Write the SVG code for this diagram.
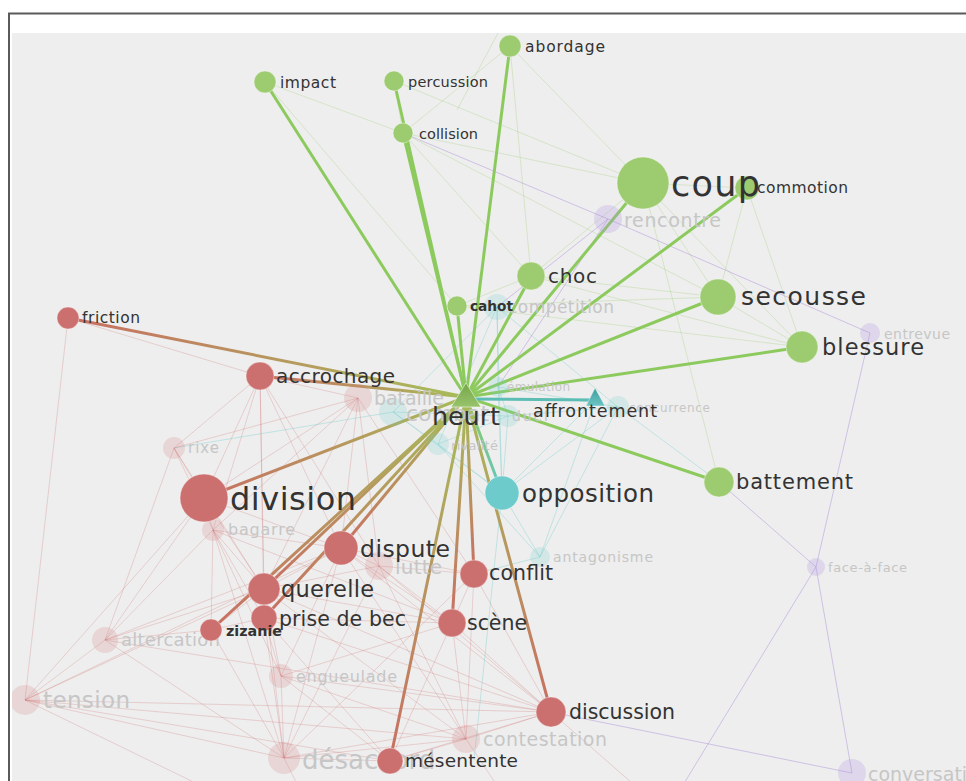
<svg xmlns="http://www.w3.org/2000/svg" width="966" height="781" viewBox="0 0 966 781">
<defs>
<style>
.lb{font-family:"DejaVu Sans","Liberation Sans",sans-serif;fill:#333}
.fl{font-family:"DejaVu Sans","Liberation Sans",sans-serif;fill:#c6c6c6}
.fg{stroke:#9dcc70;stroke-opacity:.3;stroke-width:1}
.fr{stroke:#d07878;stroke-opacity:.28;stroke-width:1}
.ft{stroke:#6ecbcb;stroke-opacity:.35;stroke-width:1}
.fp{stroke:#a98ad8;stroke-opacity:.45;stroke-width:1}
.sg{stroke:#8dca5e;stroke-width:3}
.gn{fill:#9dcb70;stroke:#fff;stroke-opacity:.4}
.rn{fill:#cc6f6f;stroke:#fff;stroke-opacity:.4}
.tn{fill:#6ecbcb;stroke:#fff;stroke-opacity:.4}
.rf{fill:#d07878;fill-opacity:.2}
.tf{fill:#6ecbcb;fill-opacity:.2}
.pf{fill:#b090e0;fill-opacity:.25}
</style>
<clipPath id="clip"><rect x="12" y="33" width="954" height="748"/></clipPath>
<linearGradient id="gF" gradientUnits="userSpaceOnUse" x1="466" y1="397" x2="68" y2="318"><stop offset="0" stop-color="#a6bd5a"/><stop offset="1" stop-color="#c96e62"/></linearGradient>
<linearGradient id="gA" gradientUnits="userSpaceOnUse" x1="466" y1="397" x2="260" y2="376"><stop offset="0" stop-color="#a6bd5a"/><stop offset="1" stop-color="#c96e62"/></linearGradient>
<linearGradient id="gD" gradientUnits="userSpaceOnUse" x1="466" y1="397" x2="204" y2="498"><stop offset="0" stop-color="#a6bd5a"/><stop offset="1" stop-color="#c96e62"/></linearGradient>
<linearGradient id="gDi" gradientUnits="userSpaceOnUse" x1="466" y1="397" x2="341" y2="548"><stop offset="0" stop-color="#a6bd5a"/><stop offset="1" stop-color="#c96e62"/></linearGradient>
<linearGradient id="gQ" gradientUnits="userSpaceOnUse" x1="466" y1="397" x2="264" y2="589"><stop offset="0" stop-color="#a6bd5a"/><stop offset="1" stop-color="#c96e62"/></linearGradient>
<linearGradient id="gP" gradientUnits="userSpaceOnUse" x1="466" y1="397" x2="264" y2="618"><stop offset="0" stop-color="#a6bd5a"/><stop offset="1" stop-color="#c96e62"/></linearGradient>
<linearGradient id="gZ" gradientUnits="userSpaceOnUse" x1="466" y1="397" x2="211" y2="630"><stop offset="0" stop-color="#a6bd5a"/><stop offset="1" stop-color="#c96e62"/></linearGradient>
<linearGradient id="gC" gradientUnits="userSpaceOnUse" x1="466" y1="397" x2="474" y2="574"><stop offset="0" stop-color="#a6bd5a"/><stop offset="1" stop-color="#c96e62"/></linearGradient>
<linearGradient id="gS" gradientUnits="userSpaceOnUse" x1="466" y1="397" x2="452" y2="623"><stop offset="0" stop-color="#a6bd5a"/><stop offset="1" stop-color="#c96e62"/></linearGradient>
<linearGradient id="gDc" gradientUnits="userSpaceOnUse" x1="466" y1="397" x2="551" y2="712"><stop offset="0" stop-color="#a6bd5a"/><stop offset="1" stop-color="#c96e62"/></linearGradient>
<linearGradient id="gM" gradientUnits="userSpaceOnUse" x1="466" y1="397" x2="390" y2="761"><stop offset="0" stop-color="#a6bd5a"/><stop offset="1" stop-color="#c96e62"/></linearGradient>
<linearGradient id="gO" gradientUnits="userSpaceOnUse" x1="466" y1="397" x2="502" y2="493"><stop offset="0" stop-color="#8dca5e"/><stop offset="1" stop-color="#62c6c0"/></linearGradient>
<linearGradient id="gH" x1="0" y1="0" x2="0" y2="1"><stop offset="0" stop-color="#76a548"/><stop offset="1" stop-color="#98c46c"/></linearGradient>
<linearGradient id="gAf" x1="0" y1="0" x2="0" y2="1"><stop offset="0" stop-color="#3f9e9e"/><stop offset="1" stop-color="#6cc4c4"/></linearGradient>
</defs>
<rect x="0" y="0" width="966" height="781" fill="#ffffff"/>
<rect x="12" y="33" width="954" height="748" fill="#eeeeee"/>
<path d="M9,781 V13.5 H966" fill="none" stroke="#5a5a5a" stroke-width="2"/>
<g clip-path="url(#clip)">
<g id="connectors">
<line class="fg" x1="265" y1="82" x2="403" y2="133"/>
<line class="fg" x1="265" y1="82" x2="457" y2="306"/>
<line class="fg" x1="394" y1="81" x2="403" y2="133"/>
<line class="fg" x1="394" y1="81" x2="643" y2="183"/>
<line class="fg" x1="510" y1="46" x2="403" y2="133"/>
<line class="fg" x1="510" y1="46" x2="531" y2="276"/>
<line class="fg" x1="510" y1="46" x2="643" y2="183"/>
<line class="fg" x1="498" y1="33" x2="457" y2="110"/>
<line class="fg" x1="403" y1="133" x2="531" y2="276"/>
<line class="fg" x1="403" y1="133" x2="643" y2="183"/>
<line class="fg" x1="403" y1="133" x2="718" y2="297"/>
<line class="fg" x1="531" y1="276" x2="643" y2="183"/>
<line class="fg" x1="531" y1="276" x2="718" y2="297"/>
<line class="fg" x1="531" y1="276" x2="802" y2="347"/>
<line class="fg" x1="457" y1="306" x2="718" y2="297"/>
<line class="fg" x1="457" y1="306" x2="531" y2="276"/>
<line class="fg" x1="457" y1="306" x2="802" y2="347"/>
<line class="fg" x1="643" y1="183" x2="718" y2="297"/>
<line class="fg" x1="643" y1="183" x2="802" y2="347"/>
<line class="fg" x1="643" y1="183" x2="719" y2="482"/>
<line class="fg" x1="747" y1="188" x2="718" y2="297"/>
<line class="fg" x1="747" y1="188" x2="802" y2="347"/>
<line class="fg" x1="718" y1="297" x2="802" y2="347"/>
<line class="fg" x1="643" y1="183" x2="747" y2="188"/>
<line class="fp" x1="403" y1="133" x2="608" y2="219"/>
<line class="fp" x1="608" y1="219" x2="870" y2="333"/>
<line class="fp" x1="608" y1="219" x2="497" y2="307"/>
<line class="fp" x1="608" y1="219" x2="498" y2="387"/>
<line class="fp" x1="870" y1="333" x2="816" y2="567"/>
<line class="fp" x1="719" y1="482" x2="816" y2="567"/>
<line class="fp" x1="816" y1="567" x2="852" y2="773"/>
<line class="fp" x1="816" y1="567" x2="680" y2="790"/>
<line class="fp" x1="551" y1="712" x2="852" y2="773"/>
<line class="ft" x1="497" y1="307" x2="498" y2="387"/>
<line class="ft" x1="497" y1="307" x2="438" y2="444"/>
<line class="ft" x1="497" y1="307" x2="618" y2="407"/>
<line class="ft" x1="497" y1="307" x2="393" y2="412"/>
<line class="ft" x1="497" y1="307" x2="502" y2="493"/>
<line class="ft" x1="498" y1="387" x2="618" y2="407"/>
<line class="ft" x1="498" y1="387" x2="502" y2="493"/>
<line class="ft" x1="498" y1="387" x2="508" y2="416"/>
<line class="ft" x1="393" y1="412" x2="438" y2="444"/>
<line class="ft" x1="393" y1="412" x2="508" y2="416"/>
<line class="ft" x1="393" y1="412" x2="174" y2="448"/>
<line class="ft" x1="393" y1="412" x2="502" y2="493"/>
<line class="ft" x1="438" y1="444" x2="502" y2="493"/>
<line class="ft" x1="438" y1="444" x2="540" y2="557"/>
<line class="ft" x1="438" y1="444" x2="508" y2="416"/>
<line class="ft" x1="508" y1="416" x2="502" y2="493"/>
<line class="ft" x1="508" y1="416" x2="618" y2="407"/>
<line class="ft" x1="618" y1="407" x2="502" y2="493"/>
<line class="ft" x1="618" y1="407" x2="540" y2="557"/>
<line class="ft" x1="618" y1="407" x2="719" y2="482"/>
<line class="ft" x1="502" y1="493" x2="540" y2="557"/>
<line class="ft" x1="596" y1="399" x2="540" y2="557"/>
<line class="ft" x1="596" y1="399" x2="502" y2="493"/>
<line class="ft" x1="540" y1="557" x2="474" y2="574"/>
<line class="ft" x1="502" y1="493" x2="474" y2="760"/>
<line class="fr" x1="68" y1="318" x2="25" y2="700"/>
<line class="fr" x1="68" y1="318" x2="260" y2="376"/>
<line class="fr" x1="260" y1="376" x2="174" y2="448"/>
<line class="fr" x1="260" y1="376" x2="358" y2="398"/>
<line class="fr" x1="260" y1="376" x2="204" y2="498"/>
<line class="fr" x1="260" y1="376" x2="213" y2="530"/>
<line class="fr" x1="260" y1="376" x2="264" y2="589"/>
<line class="fr" x1="260" y1="376" x2="341" y2="548"/>
<line class="fr" x1="260" y1="376" x2="379" y2="566"/>
<line class="fr" x1="260" y1="376" x2="264" y2="618"/>
<line class="fr" x1="174" y1="448" x2="204" y2="498"/>
<line class="fr" x1="174" y1="448" x2="213" y2="530"/>
<line class="fr" x1="174" y1="448" x2="105" y2="640"/>
<line class="fr" x1="174" y1="448" x2="264" y2="589"/>
<line class="fr" x1="174" y1="448" x2="358" y2="398"/>
<line class="fr" x1="204" y1="498" x2="213" y2="530"/>
<line class="fr" x1="204" y1="498" x2="341" y2="548"/>
<line class="fr" x1="204" y1="498" x2="264" y2="589"/>
<line class="fr" x1="204" y1="498" x2="105" y2="640"/>
<line class="fr" x1="204" y1="498" x2="25" y2="700"/>
<line class="fr" x1="204" y1="498" x2="358" y2="398"/>
<line class="fr" x1="213" y1="530" x2="264" y2="589"/>
<line class="fr" x1="213" y1="530" x2="264" y2="618"/>
<line class="fr" x1="213" y1="530" x2="211" y2="630"/>
<line class="fr" x1="213" y1="530" x2="281" y2="676"/>
<line class="fr" x1="213" y1="530" x2="284" y2="758"/>
<line class="fr" x1="213" y1="530" x2="105" y2="640"/>
<line class="fr" x1="213" y1="530" x2="341" y2="548"/>
<line class="fr" x1="213" y1="530" x2="452" y2="623"/>
<line class="fr" x1="341" y1="548" x2="379" y2="566"/>
<line class="fr" x1="341" y1="548" x2="264" y2="589"/>
<line class="fr" x1="341" y1="548" x2="474" y2="574"/>
<line class="fr" x1="341" y1="548" x2="452" y2="623"/>
<line class="fr" x1="341" y1="548" x2="281" y2="676"/>
<line class="fr" x1="341" y1="548" x2="284" y2="758"/>
<line class="fr" x1="341" y1="548" x2="466" y2="739"/>
<line class="fr" x1="341" y1="548" x2="358" y2="398"/>
<line class="fr" x1="341" y1="548" x2="551" y2="712"/>
<line class="fr" x1="264" y1="589" x2="264" y2="618"/>
<line class="fr" x1="264" y1="589" x2="211" y2="630"/>
<line class="fr" x1="264" y1="589" x2="105" y2="640"/>
<line class="fr" x1="264" y1="589" x2="25" y2="700"/>
<line class="fr" x1="264" y1="589" x2="281" y2="676"/>
<line class="fr" x1="264" y1="589" x2="284" y2="758"/>
<line class="fr" x1="264" y1="589" x2="466" y2="739"/>
<line class="fr" x1="264" y1="589" x2="551" y2="712"/>
<line class="fr" x1="264" y1="589" x2="379" y2="566"/>
<line class="fr" x1="264" y1="589" x2="452" y2="623"/>
<line class="fr" x1="264" y1="618" x2="211" y2="630"/>
<line class="fr" x1="264" y1="618" x2="281" y2="676"/>
<line class="fr" x1="264" y1="618" x2="284" y2="758"/>
<line class="fr" x1="264" y1="618" x2="452" y2="623"/>
<line class="fr" x1="264" y1="618" x2="390" y2="761"/>
<line class="fr" x1="264" y1="618" x2="551" y2="712"/>
<line class="fr" x1="211" y1="630" x2="105" y2="640"/>
<line class="fr" x1="211" y1="630" x2="284" y2="758"/>
<line class="fr" x1="105" y1="640" x2="25" y2="700"/>
<line class="fr" x1="105" y1="640" x2="284" y2="758"/>
<line class="fr" x1="105" y1="640" x2="551" y2="712"/>
<line class="fr" x1="105" y1="640" x2="341" y2="548"/>
<line class="fr" x1="25" y1="700" x2="284" y2="758"/>
<line class="fr" x1="25" y1="700" x2="551" y2="712"/>
<line class="fr" x1="25" y1="700" x2="466" y2="739"/>
<line class="fr" x1="25" y1="700" x2="390" y2="761"/>
<line class="fr" x1="25" y1="700" x2="341" y2="548"/>
<line class="fr" x1="25" y1="700" x2="210" y2="790"/>
<line class="fr" x1="281" y1="676" x2="284" y2="758"/>
<line class="fr" x1="281" y1="676" x2="390" y2="761"/>
<line class="fr" x1="281" y1="676" x2="466" y2="739"/>
<line class="fr" x1="281" y1="676" x2="452" y2="623"/>
<line class="fr" x1="281" y1="676" x2="551" y2="712"/>
<line class="fr" x1="379" y1="566" x2="474" y2="574"/>
<line class="fr" x1="379" y1="566" x2="452" y2="623"/>
<line class="fr" x1="379" y1="566" x2="466" y2="739"/>
<line class="fr" x1="379" y1="566" x2="284" y2="758"/>
<line class="fr" x1="379" y1="566" x2="551" y2="712"/>
<line class="fr" x1="474" y1="574" x2="452" y2="623"/>
<line class="fr" x1="474" y1="574" x2="551" y2="712"/>
<line class="fr" x1="474" y1="574" x2="466" y2="739"/>
<line class="fr" x1="474" y1="574" x2="284" y2="758"/>
<line class="fr" x1="452" y1="623" x2="466" y2="739"/>
<line class="fr" x1="452" y1="623" x2="551" y2="712"/>
<line class="fr" x1="452" y1="623" x2="390" y2="761"/>
<line class="fr" x1="551" y1="712" x2="466" y2="739"/>
<line class="fr" x1="551" y1="712" x2="390" y2="761"/>
<line class="fr" x1="551" y1="712" x2="284" y2="758"/>
<line class="fr" x1="551" y1="712" x2="640" y2="790"/>
<line class="fr" x1="466" y1="739" x2="390" y2="761"/>
<line class="fr" x1="466" y1="739" x2="284" y2="758"/>
<line class="fr" x1="390" y1="761" x2="284" y2="758"/>
<line class="fr" x1="358" y1="398" x2="379" y2="566"/>
<line class="fr" x1="358" y1="398" x2="264" y2="589"/>
<line class="fr" x1="358" y1="398" x2="474" y2="574"/>
<line class="fr" x1="358" y1="398" x2="213" y2="530"/>
<line class="fr" x1="284" y1="758" x2="300" y2="790"/>
<line class="fr" x1="466" y1="739" x2="500" y2="790"/>
<line class="sg" x1="466" y1="397" x2="265" y2="82"/>
<line class="sg" x1="466" y1="397" x2="394" y2="81"/>
<line class="sg" x1="466" y1="397" x2="403" y2="133"/>
<line class="sg" x1="466" y1="397" x2="510" y2="46"/>
<line class="sg" x1="466" y1="397" x2="643" y2="183"/>
<line class="sg" x1="466" y1="397" x2="747" y2="188"/>
<line class="sg" x1="466" y1="397" x2="531" y2="276"/>
<line class="sg" x1="466" y1="397" x2="457" y2="306"/>
<line class="sg" x1="466" y1="397" x2="718" y2="297"/>
<line class="sg" x1="466" y1="397" x2="802" y2="347"/>
<line class="sg" x1="466" y1="397" x2="719" y2="482"/>
<line x1="466" y1="399" x2="596" y2="400" stroke="#5cbdb5" stroke-width="3"/>
<line x1="466" y1="397" x2="502" y2="493" stroke="url(#gO)" stroke-width="3"/>
<line x1="466" y1="397" x2="68" y2="318" stroke="url(#gF)" stroke-width="3"/>
<line x1="466" y1="397" x2="260" y2="376" stroke="url(#gA)" stroke-width="3"/>
<line x1="466" y1="397" x2="204" y2="498" stroke="url(#gD)" stroke-width="3"/>
<line x1="466" y1="397" x2="341" y2="548" stroke="url(#gDi)" stroke-width="3"/>
<line x1="466" y1="397" x2="264" y2="589" stroke="url(#gQ)" stroke-width="3"/>
<line x1="466" y1="397" x2="264" y2="618" stroke="url(#gP)" stroke-width="3"/>
<line x1="466" y1="397" x2="211" y2="630" stroke="url(#gZ)" stroke-width="3"/>
<line x1="466" y1="397" x2="474" y2="574" stroke="url(#gC)" stroke-width="3"/>
<line x1="466" y1="397" x2="452" y2="623" stroke="url(#gS)" stroke-width="3"/>
<line x1="466" y1="397" x2="551" y2="712" stroke="url(#gDc)" stroke-width="3"/>
<line x1="466" y1="397" x2="390" y2="761" stroke="url(#gM)" stroke-width="3"/>
</g>
<g id="n-rencontre"><circle class="pf" cx="608" cy="219" r="14"/><text class="fl" x="624" y="227" font-size="19" textLength="97" lengthAdjust="spacing">rencontre</text></g>
<g id="n-entrevue"><circle class="pf" cx="870" cy="333" r="10"/><text class="fl" x="884" y="339" font-size="14" textLength="66" lengthAdjust="spacing">entrevue</text></g>
<g id="n-face-a-face"><circle class="pf" cx="816" cy="567" r="9"/><text class="fl" x="828" y="572" font-size="13" fill="#bdbdbd" textLength="79" lengthAdjust="spacing">face-à-face</text></g>
<g id="n-conversation"><circle class="pf" cx="852" cy="773" r="14"/><text class="fl" x="868" y="781" font-size="19">conversation</text></g>
<g id="n-competition"><circle class="tf" cx="497" cy="307" r="13"/><text class="fl" x="508" y="313" font-size="17" textLength="106" lengthAdjust="spacing">compétition</text></g>
<g id="n-emulation"><circle class="tf" cx="498" cy="387" r="10"/><text class="fl" x="507" y="391" font-size="12" textLength="63" lengthAdjust="spacing">émulation</text></g>
<g id="n-concurrence"><circle class="tf" cx="618" cy="407" r="11"/><text class="fl" x="629" y="412" font-size="12" textLength="81" lengthAdjust="spacing">concurrence</text></g>
<g id="n-duel"><circle class="tf" cx="508" cy="416" r="11"/><text class="fl" x="512" y="421" font-size="14" textLength="36" lengthAdjust="spacing">duel</text></g>
<g id="n-combat"><circle class="tf" cx="393" cy="412" r="14"/><text class="fl" x="406" y="421" font-size="22">combat</text></g>
<g id="n-rivalite"><circle class="tf" cx="438" cy="444" r="11"/><text class="fl" x="451" y="450" font-size="13" textLength="47" lengthAdjust="spacing">rivalité</text></g>
<g id="n-antagonisme"><circle class="tf" cx="540" cy="557" r="10"/><text class="fl" x="553" y="562" font-size="14" textLength="100" lengthAdjust="spacing">antagonisme</text></g>
<g id="n-bataille"><circle class="rf" cx="358" cy="398" r="14"/><text class="fl" x="374" y="405" font-size="19" textLength="70" lengthAdjust="spacing">bataille</text></g>
<g id="n-rixe"><circle class="rf" cx="174" cy="448" r="11"/><text class="fl" x="188" y="453" font-size="15" textLength="31" lengthAdjust="spacing">rixe</text></g>
<g id="n-bagarre"><circle class="rf" cx="213" cy="530" r="11"/><text class="fl" x="228" y="535" font-size="16" textLength="67" lengthAdjust="spacing">bagarre</text></g>
<g id="n-lutte"><circle class="rf" cx="379" cy="566" r="14"/><text class="fl" x="395" y="574" font-size="20" textLength="47" lengthAdjust="spacing">lutte</text></g>
<g id="n-altercation"><circle class="rf" cx="105" cy="640" r="13"/><text class="fl" x="121" y="646" font-size="18" textLength="99" lengthAdjust="spacing">altercation</text></g>
<g id="n-tension"><circle class="rf" cx="25" cy="700" r="15"/><text class="fl" x="43" y="708" font-size="23" textLength="87" lengthAdjust="spacing">tension</text></g>
<g id="n-engueulade"><circle class="rf" cx="281" cy="676" r="12"/><text class="fl" x="296" y="682" font-size="16" textLength="101" lengthAdjust="spacing">engueulade</text></g>
<g id="n-contestation"><circle class="rf" cx="466" cy="739" r="14"/><text class="fl" x="483" y="746" font-size="19" textLength="124" lengthAdjust="spacing">contestation</text></g>
<g id="n-desaccord"><circle class="rf" cx="284" cy="758" r="16"/><text class="fl" x="302" y="769" font-size="26">désaccord</text></g>
<g id="n-abordage"><circle class="gn" cx="510" cy="46" r="11"/><text class="lb" x="525" y="52" font-size="15.5" textLength="80" lengthAdjust="spacing">abordage</text></g>
<g id="n-impact"><circle class="gn" cx="265" cy="82" r="11"/><text class="lb" x="280" y="88" font-size="15.5" textLength="56" lengthAdjust="spacing">impact</text></g>
<g id="n-percussion"><circle class="gn" cx="394" cy="81" r="10"/><text class="lb" x="408" y="87" font-size="14.5" textLength="80" lengthAdjust="spacing">percussion</text></g>
<g id="n-collision"><circle class="gn" cx="403" cy="133" r="10"/><text class="lb" x="419" y="139" font-size="14.5" textLength="59" lengthAdjust="spacing">collision</text></g>
<g id="n-commotion"><circle class="gn" cx="747" cy="188" r="12"/><text class="lb" x="757" y="193" font-size="15.5" textLength="91" lengthAdjust="spacing">commotion</text></g>
<g id="n-coup"><circle class="gn" cx="643" cy="183" r="26"/><text class="lb" x="671" y="196" font-size="35" textLength="89" lengthAdjust="spacing">coup</text></g>
<g id="n-choc"><circle class="gn" cx="531" cy="276" r="14"/><text class="lb" x="548" y="283" font-size="20" textLength="49" lengthAdjust="spacing">choc</text></g>
<g id="n-cahot"><circle class="gn" cx="457" cy="306" r="10"/><text class="lb" x="470" y="311" font-size="14" font-weight="bold" textLength="43" lengthAdjust="spacingAndGlyphs">cahot</text></g>
<g id="n-secousse"><circle class="gn" cx="718" cy="297" r="18"/><text class="lb" x="741" y="305" font-size="25" textLength="125" lengthAdjust="spacing">secousse</text></g>
<g id="n-blessure"><circle class="gn" cx="802" cy="347" r="16"/><text class="lb" x="822" y="355" font-size="22.5" textLength="102" lengthAdjust="spacing">blessure</text></g>
<g id="n-battement"><circle class="gn" cx="719" cy="482" r="15"/><text class="lb" x="736" y="489" font-size="21" textLength="117" lengthAdjust="spacing">battement</text></g>
<g id="n-opposition"><circle class="tn" cx="502" cy="493" r="17"/><text class="lb" x="522" y="502" font-size="24.5" textLength="132" lengthAdjust="spacing">opposition</text></g>
<g id="n-affrontement"><polygon points="595,388 586,406 605,406" fill="url(#gAf)" stroke="#fff" stroke-opacity=".4"/><text class="lb" x="533" y="417" font-size="17.5" fill="#222" textLength="124" lengthAdjust="spacing">affrontement</text></g>
<g id="n-friction"><circle class="rn" cx="68" cy="318" r="11"/><text class="lb" x="82" y="323" font-size="15.5" textLength="58" lengthAdjust="spacing">friction</text></g>
<g id="n-accrochage"><circle class="rn" cx="260" cy="376" r="14"/><text class="lb" x="276" y="383" font-size="20" textLength="119" lengthAdjust="spacing">accrochage</text></g>
<g id="n-division"><circle class="rn" cx="204" cy="498" r="24"/><text class="lb" x="230" y="510" font-size="32" textLength="126" lengthAdjust="spacing">division</text></g>
<g id="n-dispute"><circle class="rn" cx="341" cy="548" r="17"/><text class="lb" x="360" y="557" font-size="23.5" textLength="90" lengthAdjust="spacing">dispute</text></g>
<g id="n-querelle"><circle class="rn" cx="264" cy="589" r="16"/><text class="lb" x="281" y="597" font-size="22.5" textLength="93" lengthAdjust="spacing">querelle</text></g>
<g id="n-prise-de-bec"><circle class="rn" cx="264" cy="618" r="13"/><text class="lb" x="279" y="626" font-size="20.5" textLength="127" lengthAdjust="spacing">prise de bec</text></g>
<g id="n-zizanie"><circle class="rn" cx="211" cy="630" r="11"/><text class="lb" x="226" y="636" font-size="14" font-weight="bold" fill="#2a2a2a" textLength="56" lengthAdjust="spacingAndGlyphs">zizanie</text></g>
<g id="n-conflit"><circle class="rn" cx="474" cy="574" r="14"/><text class="lb" x="489" y="580" font-size="20.5" textLength="64" lengthAdjust="spacing">conflit</text></g>
<g id="n-scene"><circle class="rn" cx="452" cy="623" r="14"/><text class="lb" x="467" y="630" font-size="20.5" textLength="60" lengthAdjust="spacing">scène</text></g>
<g id="n-discussion"><circle class="rn" cx="551" cy="712" r="15"/><text class="lb" x="569" y="719" font-size="20.5" textLength="106" lengthAdjust="spacing">discussion</text></g>
<g id="n-mesentente"><circle class="rn" cx="390" cy="761" r="13"/><text class="lb" x="405" y="767" font-size="18.5" textLength="113" lengthAdjust="spacing">mésentente</text></g>
<g id="n-heurt"><polygon points="466,383 451,407 481,407" fill="url(#gH)" stroke="#fff" stroke-opacity=".5"/><text class="lb" x="432" y="425" font-size="25.5" fill="#2a2a2a" textLength="68" lengthAdjust="spacing">heurt</text></g>
</g>
</svg>
